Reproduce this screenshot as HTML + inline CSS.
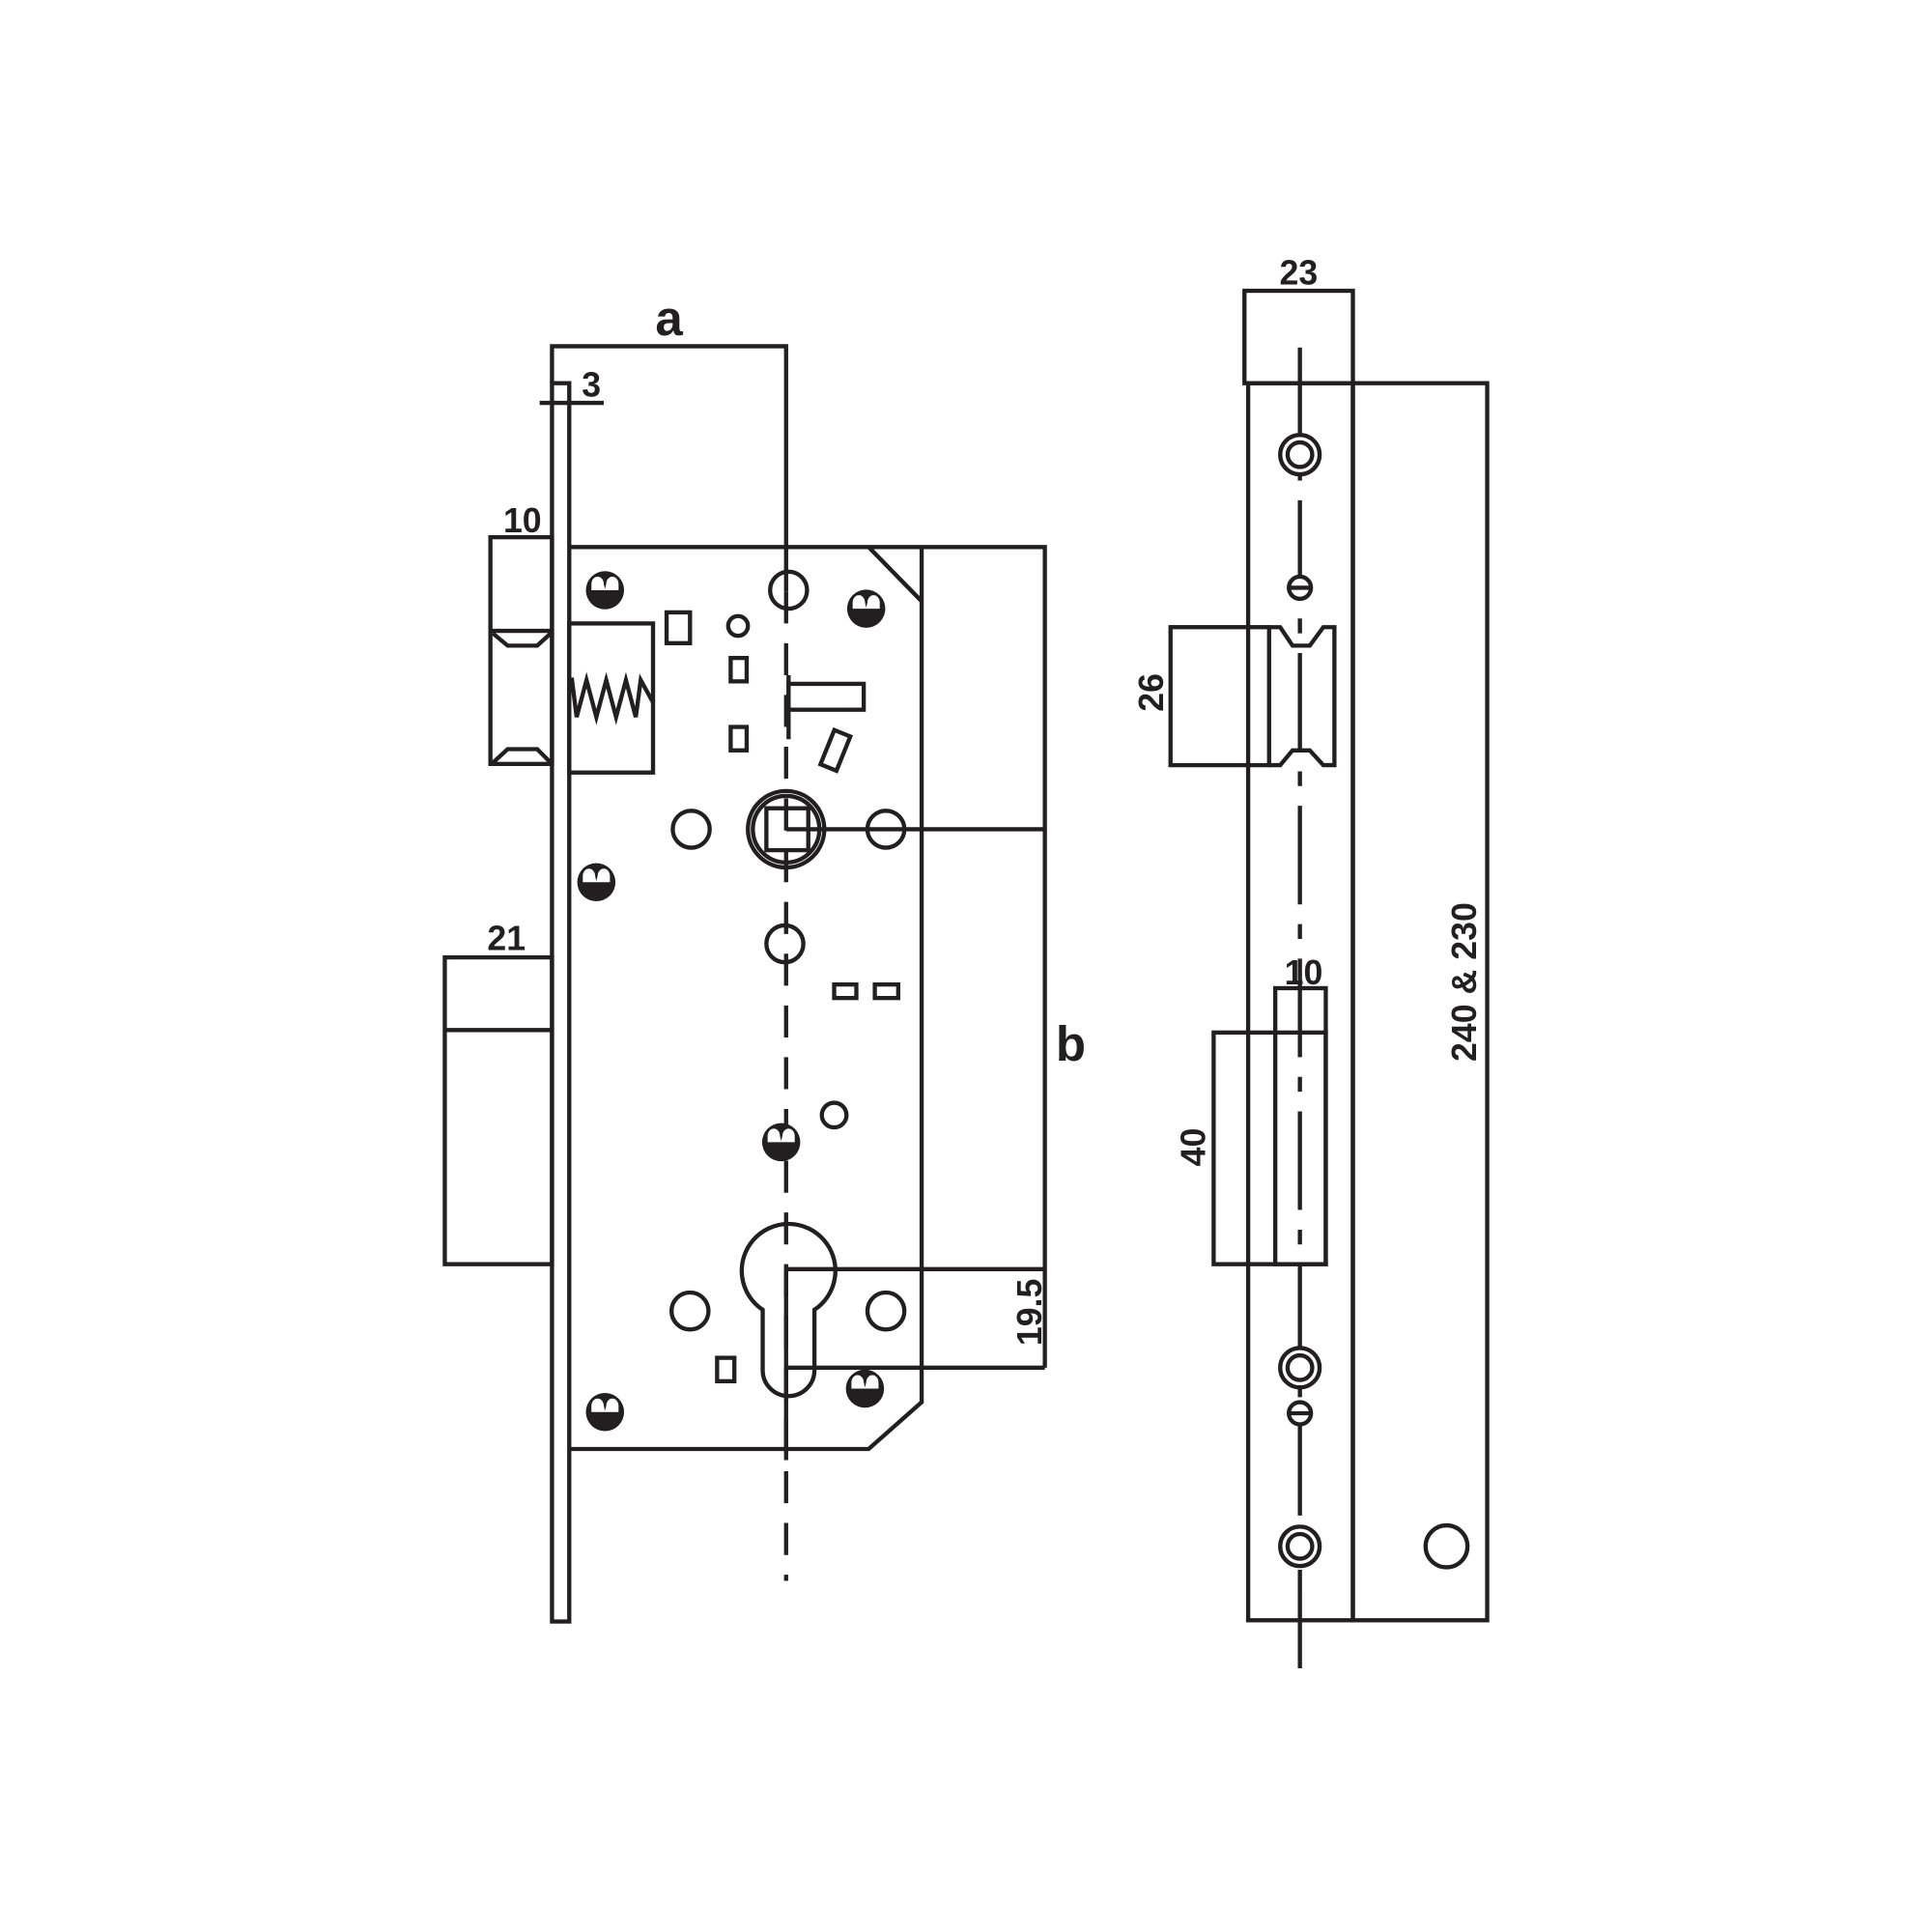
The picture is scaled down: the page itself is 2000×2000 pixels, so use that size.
<!DOCTYPE html>
<html><head><meta charset="utf-8"><style>html,body{margin:0;padding:0;background:#fff}svg{display:block}</style></head>
<body>
<svg width="2000" height="2000" viewBox="0 0 1568 1568" xmlns="http://www.w3.org/2000/svg">
<defs>
<g id="scr"><circle r="15.5" fill="#231f20"/><path d="M-11,0 L-11,-5 A5,6 0 0 1 -1,-5 L0,-1 L1,-5 A5,6 0 0 1 11,-5 L11,0 Z" fill="#fff"/></g>
</defs>
<g fill="none" stroke="#231f20" stroke-width="3.4">
<!-- left view -->
<rect x="448" y="311" width="14" height="1005"/>
<line x1="438" y1="327" x2="490" y2="327"/>
<polyline points="448,311 448,281 638,281 638,480"/>
<rect x="398" y="436" width="50" height="184"/>
<line x1="398" y1="512" x2="448" y2="512"/>
<polyline points="400,514 412,524 436,524 447,514"/>
<polyline points="400,619 412,608 436,608 447,619"/>
<polyline points="462,444 848,444 848,1110"/>
<polyline points="748,444 748,1138 705,1176 462,1176"/>
<line x1="705" y1="444" x2="748" y2="488"/>
<line x1="638" y1="673" x2="848" y2="673"/>
<line x1="638" y1="1030" x2="848" y2="1030"/>
<line x1="638" y1="1110" x2="848" y2="1110"/>
<rect x="462" y="506" width="68" height="121"/>
<polyline points="464,550 468,582 476,552 484,582 492,552 500,582 508,552 516,582 520,552 530,570"/>
<line x1="638" y1="480" x2="638" y2="1283" stroke-dasharray="26,16"/>
<line x1="638" y1="1032" x2="638" y2="1185"/>
<line x1="640" y1="548" x2="640" y2="600"/>
<circle cx="640" cy="479" r="15"/>
<circle cx="599" cy="508" r="8"/>
<circle cx="561" cy="673" r="15"/>
<circle cx="719" cy="673" r="15"/>
<circle cx="637" cy="766" r="15"/>
<circle cx="677" cy="905" r="10"/>
<circle cx="560" cy="1064" r="15"/>
<circle cx="719" cy="1064" r="15"/>
<rect x="541" y="497" width="19" height="25"/>
<rect x="593" y="534" width="13" height="19"/>
<rect x="593" y="590" width="13" height="19"/>
<rect x="640" y="555" width="61" height="21"/>
<rect x="671" y="594" width="14" height="30" transform="rotate(22 678 609)"/>
<rect x="677" y="799" width="18" height="11"/>
<rect x="710" y="799" width="19" height="11"/>
<rect x="582" y="1102" width="14" height="19"/>
<circle cx="638" cy="673" r="31"/>
<circle cx="638" cy="673" r="27"/>
<rect x="622" y="656" width="34" height="34"/>
<path d="M619,1063 A38,38 0 1 1 661,1063 L661,1112 A21,21 0 0 1 619,1112 Z"/>
<rect x="361" y="777" width="87" height="249"/>
<line x1="361" y1="836" x2="448" y2="836"/>
<!-- right view -->
<rect x="1010" y="236" width="88" height="75"/>
<rect x="1013" y="311" width="85" height="1004"/>
<rect x="1098" y="311" width="109" height="1004"/>
<circle cx="1174" cy="1255" r="17"/>
<line x1="1055" y1="282" x2="1055" y2="1357" stroke-dasharray="80,16,12,16"/>
<circle cx="1055" cy="369" r="16" fill="#fff"/><circle cx="1055" cy="369" r="10"/>
<circle cx="1055" cy="1110" r="16" fill="#fff"/><circle cx="1055" cy="1110" r="10"/>
<circle cx="1055" cy="1255" r="16" fill="#fff"/><circle cx="1055" cy="1255" r="10"/>
<circle cx="1055" cy="477" r="9" fill="#fff"/><line x1="1046" y1="477" x2="1064" y2="477"/>
<circle cx="1055" cy="1147" r="9" fill="#fff"/><line x1="1046" y1="1147" x2="1064" y2="1147"/>
<rect x="950" y="509" width="80" height="112"/>
<polyline points="1030,509 1039,509 1049,524 1063,524 1074,509 1083,509 1083,621 1074,621 1063,609 1049,609 1039,621 1030,621"/>
<rect x="985" y="838" width="91" height="188"/>
<rect x="1035" y="802" width="41" height="224"/>
</g>
<use href="#scr" x="491" y="479"/>
<use href="#scr" x="703" y="494"/>
<use href="#scr" x="484" y="716"/>
<use href="#scr" x="634" y="927"/>
<use href="#scr" x="702" y="1127"/>
<use href="#scr" x="491" y="1146"/>
<g font-family="Liberation Sans, sans-serif" font-weight="bold" fill="#231f20" text-anchor="middle">
<text x="543" y="272" font-size="40">a</text>
<text x="869" y="861" font-size="40">b</text>
<text x="480" y="322" font-size="28">3</text>
<text x="424" y="432" font-size="28">10</text>
<text x="411" y="771" font-size="28">21</text>
<text x="1054" y="231" font-size="28">23</text>
<text x="1058" y="799" font-size="28">10</text>
<text transform="translate(845,1065) rotate(-90)" font-size="28">19.5</text>
<text transform="translate(944,562) rotate(-90)" font-size="28">26</text>
<text transform="translate(978,931) rotate(-90)" font-size="28">40</text>
<text transform="translate(1198,797) rotate(-90)" font-size="28">240 &amp; 230</text>
</g>
</svg>
</body></html>
